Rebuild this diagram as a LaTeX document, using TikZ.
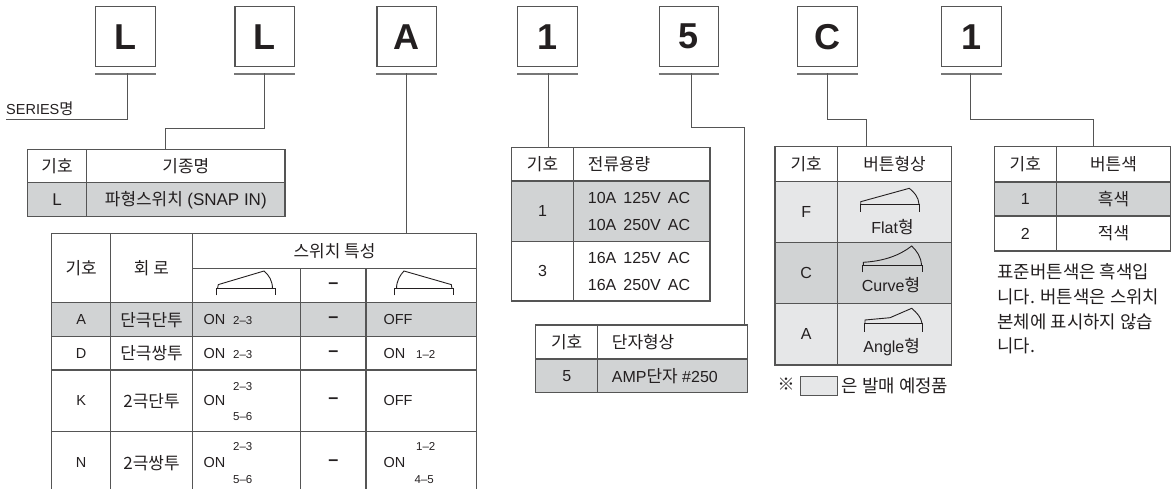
\documentclass[tikz,border=0pt]{standalone}
\usepackage{fontspec}
\setmainfont{Liberation Sans}
\newfontfamily\kr[Scale=1.06]{Noto Sans CJK KR}
\newcommand\hk[1]{{\kr #1}}
\definecolor{ln}{HTML}{555555}
\definecolor{dg}{HTML}{D1D3D4}
\definecolor{lg}{HTML}{E6E7E8}
\definecolor{tx}{HTML}{231F20}
\begin{document}
\begin{tikzpicture}[x=1pt,y=-1pt,
  tb/.style={draw=ln, line width=1.1pt},
  cn/.style={draw=ln, line width=1pt},
  ul/.style={draw=ln!80, line width=1.6pt},
  bx/.style={draw=ln, line width=1.1pt, minimum width=59.5pt, minimum height=60pt, inner sep=0pt, text=tx, font=\fontsize{36}{40}\selectfont\bfseries},
  t/.style={inner sep=0pt, text=tx, font=\fontsize{16}{18}\selectfont},
  tn/.style={t, font=\fontsize{16.8}{19}\selectfont},
  ts/.style={t, font=\fontsize{14.5}{16}\selectfont},
  tss/.style={t, font=\fontsize{11.5}{13}\selectfont},
  dsh/.style={t, font=\fontsize{18}{18}\selectfont\bfseries},
  ic/.style={draw=tx, line width=0.9pt}]
\useasboundingbox (0,0) rectangle (1171,488);

% ---- top code boxes ----
\node[bx] (b1) at (125.5,36.7) {L};
\node[bx] (b2) at (264.7,36.7) {L};
\node[bx] (b3) at (406.7,36.7) {A};
\node[bx] (b4) at (547.3,36.7) {1};
\node[bx] (b5) at (689,36.7) {5};
\node[bx] (b6) at (827.5,36.7) {C};
\node[bx] (b7) at (971.5,36.7) {1};
\foreach \b in {b1,b2,b3,b4,b5,b6,b7}{
  \draw[ul] ([yshift=-6.6pt]\b.south west) -- ([yshift=-6.6pt]\b.south east);
}

% ---- connector coordinates ----
\coordinate (u1) at (127.7,73.3);
\coordinate (s1) at (6,119.3);
\coordinate (u2) at (264.7,73.3);
\coordinate (k2) at (165.7,149.3);
\coordinate (u3) at (406,73.3);
\coordinate (k3) at (406,233.3);
\coordinate (u4) at (548.3,73.3);
\coordinate (k4) at (548.3,147.7);
\coordinate (u5) at (691.3,73.3);
\coordinate (k5) at (744.3,325);
\coordinate (u6) at (827.3,73.3);
\coordinate (k6) at (866.7,146.7);
\coordinate (u7) at (970,73.3);
\coordinate (k7) at (1093.3,146.7);

\draw[cn] (u1) |- (s1);
\draw[cn] (u2) -- (264.7,128.3) -| (k2);
\draw[cn] (u3) -- (k3);
\draw[cn] (u4) -- (k4);
\draw[cn] (u5) -- (691.3,127.3) -| (k5);
\draw[cn] (u6) -- (827.3,119.3) -| (k6);
\draw[cn] (u7) -- (970,119.3) -| (k7);

\node[ts, anchor=south west] (series) at (6,116) {SERIES\hk{명}};

% ---- table 1 : 기종명 ----
\fill[dg] (27.3,182.7) rectangle (285,216.7);
\draw[tb] (27.3,149.3) rectangle (285,216.7);
\draw[tb] (27.3,182.7) -- (285,182.7);
\draw[tb] (86.7,149.3) -- (86.7,216.7);
\node[t] (a1) at (57,166) {\hk{기호}};
\node[t] (a2) at (185.8,166) {\hk{기종명}};
\node[t, font=\fontsize{17}{19}\selectfont] (a3) at (57,199.7) {L};
\node[t] (a4) at (185.8,199.7) {\hk{파형스위치} {\fontsize{17}{19}\selectfont (SNAP IN)}};

% ---- table 2 : 스위치 특성 ----
\fill[dg] (51.7,302.7) rectangle (476.7,336.7);
\draw[tb] (51.7,233.3) rectangle (476.7,495);
\draw[tb] (110.7,233.3) -- (110.7,495);
\draw[tb] (192.3,233.3) -- (192.3,495);
\draw[tb] (300.7,268.3) -- (300.7,495);
\draw[tb] (366,268.3) -- (366,495);
\draw[tb] (192.3,268.3) -- (476.7,268.3);
\foreach \yy in {302.7,336.7,370,431.7}{ \draw[tb] (51.7,\yy) -- (476.7,\yy); }
\node[t] (c1) at (81.2,268) {\hk{기호}};
\node[t] (c2) at (151.5,268) {\hk{회 로}};
\node[t] (c3) at (334.5,250.8) {\hk{스위치 특성}};
\node[dsh] (c4) at (333.3,285.7) {–};
% icons
\draw[ic] (216,295.3) -- (216,288.7) -- (275,288.7) -- (275,295.3);
\draw[ic] (217.5,288.7) -- (218.3,284.6) -- (264,271) .. controls (269,275) and (272.5,281) .. (272.5,288.7);
\draw[ic] (394,295.3) -- (394,288.7) -- (453.3,288.7) -- (453.3,295.3);
\draw[ic] (396.5,288.7) .. controls (396.5,281) and (400,275) .. (404,271) -- (451.3,284.6) -- (452,288.7);
% rows
\node[ts] (r1) at (81.2,319.7) {A};
\node[t] (r2) at (151.5,319.7) {\hk{단극단투}};
\node[ts, anchor=west] (r3) at (203.3,319.7) {ON};
\node[tss, anchor=west] (r4) at (233,320.7) {2–3};
\node[dsh] (r5) at (333.3,319.7) {–};
\node[ts, anchor=west] (r6) at (383.3,319.7) {OFF};

\node[ts] (d1) at (81.2,353.3) {D};
\node[t] (d2) at (151.5,353.3) {\hk{단극쌍투}};
\node[ts, anchor=west] (d3) at (203.3,353.3) {ON};
\node[tss, anchor=west] (d4) at (233,354.3) {2–3};
\node[dsh] (d5) at (333.3,353.3) {–};
\node[ts, anchor=west] (d6) at (383.3,353.3) {ON};
\node[tss, anchor=west] (d7) at (416,354.3) {1–2};

\node[ts] (k1) at (81.2,400.8) {K};
\node[t] (kk2) at (151.5,400.8) {\hk{2극단투}};
\node[ts, anchor=west] (kk3) at (203.3,400.8) {ON};
\node[tss, anchor=west] (kk4) at (233,386.7) {2–3};
\node[tss, anchor=west] (kk5) at (233,416.7) {5–6};
\node[dsh] (kk6) at (333.3,400.8) {–};
\node[ts, anchor=west] (kk7) at (383.3,400.8) {OFF};

\node[ts] (n1) at (81.2,463) {N};
\node[t] (n2) at (151.5,463) {\hk{2극쌍투}};
\node[ts, anchor=west] (n3) at (203.3,463) {ON};
\node[tss, anchor=west] (n4) at (233,446.7) {2–3};
\node[tss, anchor=west] (n5) at (233,480) {5–6};
\node[dsh] (n6) at (333.3,463) {–};
\node[ts, anchor=west] (n7) at (383.3,463) {ON};
\node[tss, anchor=west] (n8) at (416,446.7) {1–2};
\node[tss, anchor=west] (n9) at (414.5,480) {4–5};

% ---- table 3 : 전류용량 ----
\fill[dg] (511.7,181) rectangle (710,241.7);
\draw[tb] (511.7,147.7) rectangle (710,301);
\draw[tb] (511.7,181) -- (710,181);
\draw[tb] (511.7,241.7) -- (710,241.7);
\draw[tb] (573.3,147.7) -- (573.3,301);
\node[t] (e1) at (542.5,164.3) {\hk{기호}};
\node[t, anchor=west] (e2) at (587.7,164.3) {\hk{전류용량}};
\node[t] (e3) at (542.5,211.3) {1};
\node[t, anchor=west] (e4) at (587.7,198.3) {10A\, 125V\, AC};
\node[t, anchor=west] (e5) at (587.7,225) {10A\, 250V\, AC};
\node[t] (e6) at (542.5,271.3) {3};
\node[t, anchor=west] (e7) at (587.7,258.3) {16A\, 125V\, AC};
\node[t, anchor=west] (e8) at (587.7,285) {16A\, 250V\, AC};

% ---- table 4 : 단자형상 ----
\fill[dg] (535.7,359) rectangle (747.3,392.7);
\draw[tb] (535.7,325) rectangle (747.3,392.7);
\draw[tb] (535.7,359) -- (747.3,359);
\draw[tb] (597.7,325) -- (597.7,392.7);
\node[t] (f1) at (566.7,342) {\hk{기호}};
\node[t, anchor=west] (f2) at (611.7,342) {\hk{단자형상}};
\node[t] (f3) at (566.7,375.8) {5};
\node[t, anchor=west] (f4) at (611.7,375.8) {AMP\hk{단자} \#250};

% ---- table 5 : 버튼형상 ----
\fill[lg] (775,181.7) rectangle (951.7,242.3);
\fill[dg] (775,242.3) rectangle (951.7,303.3);
\fill[lg] (775,303.3) rectangle (951.7,365);
\draw[tb] (775,146.7) rectangle (951.7,365);
\foreach \yy in {181.7,242.3,303.3}{ \draw[tb] (775,\yy) -- (951.7,\yy); }
\draw[tb] (837.3,146.7) -- (837.3,365);
\node[t] (g1) at (806.2,164.2) {\hk{기호}};
\node[t] (g2) at (894.5,164.2) {\hk{버튼형상}};
\node[t] (g3) at (806.2,212) {F};
\node[t] (g4) at (806.2,272.8) {C};
\node[t] (g5) at (806.2,334.2) {A};
\draw[ic] (860,211.7) -- (860,204) -- (919.3,204) -- (919.3,211.7);
\draw[ic] (860.7,204) -- (860.7,201.7) -- (909.3,188.3) .. controls (914,192) and (918.5,197) .. (919,204);
\node[t] (g6) at (892.5,226.7) {Flat\hk{형}};
\draw[ic] (862.7,272.3) -- (862.7,265) -- (922.3,265) -- (922.3,272.3);
\draw[ic] (863.3,265) -- (863.3,262.3) .. controls (885,261) and (900,255) .. (911.7,246) .. controls (917,251) and (921,257) .. (921.5,265);
\node[t] (g7) at (891,285) {Curve\hk{형}};
\draw[ic] (864,331.7) -- (864,323.3) -- (922.7,323.3) -- (922.7,331.7);
\draw[ic] (865,323.3) -- (865,320) -- (890,317.7) -- (911.7,308.3) .. controls (917,313) and (921,317) .. (922,323.3);
\node[t] (g8) at (891.7,346.7) {Angle\hk{형}};

% footnote
\node[t] (h1) at (786,384) {\hk{※}};
\node[draw=ln, line width=0.9pt, fill=lg, minimum width=37pt, minimum height=19pt, inner sep=0pt] (h2) at (818.7,385.5) {};
\node[tn, anchor=west] (h3) at (841.7,385.5) {\hk{은 발매 예정품}};

% ---- table 6 : 버튼색 ----
\fill[dg] (994.3,182) rectangle (1170.3,216);
\draw[tb] (994.3,146.7) rectangle (1170.3,251);
\draw[tb] (994.3,182) -- (1170.3,182);
\draw[tb] (994.3,216) -- (1170.3,216);
\draw[tb] (1056.3,146.7) -- (1056.3,251);
\node[t] (m1) at (1025.3,164.3) {\hk{기호}};
\node[t] (m2) at (1113.5,164.3) {\hk{버튼색}};
\node[t] (m3) at (1025.3,199) {1};
\node[t] (m4) at (1113.5,199) {\hk{흑색}};
\node[t] (m5) at (1025.3,233.5) {2};
\node[t] (m6) at (1113.5,233.5) {\hk{적색}};

% note
\node[tn, anchor=west] (p1) at (997.3,271.7) {\hk{표준버튼색은 흑색입}};
\node[tn, anchor=west] (p2) at (997.3,296.7) {\hk{니다. 버튼색은 스위치}};
\node[tn, anchor=west] (p3) at (997.3,321.7) {\hk{본체에 표시하지 않습}};
\node[tn, anchor=west] (p4) at (997.3,345.5) {\hk{니다.}};
\end{tikzpicture}
\end{document}
